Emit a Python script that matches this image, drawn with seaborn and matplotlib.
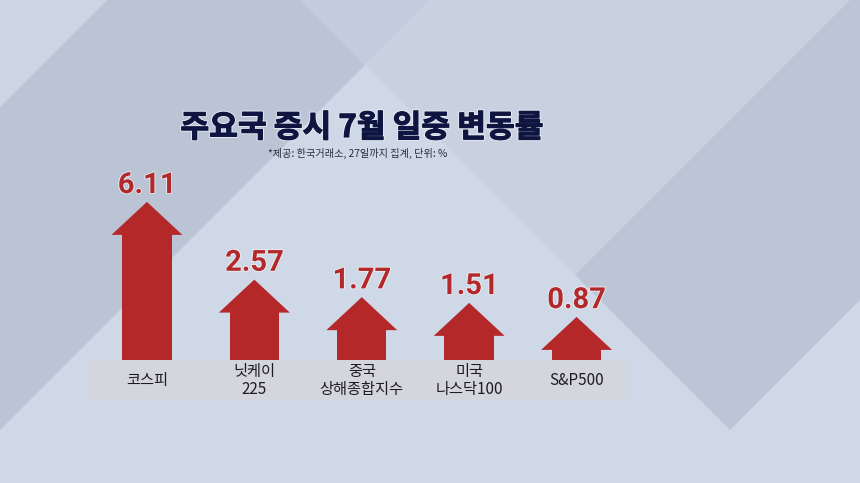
import numpy as np
import matplotlib
matplotlib.use("Agg")
import matplotlib.pyplot as plt
import matplotlib.patheffects as pe
from matplotlib.patches import Polygon, Rectangle
import seaborn as sns

# data
categories = ["코스피", "닛케이\n225", "중국\n상해종합지수", "미국\n나스닥100", "S&P500"]
values = [6.11, 2.57, 1.77, 1.51, 0.87]

title = "주요국 증시 7월 일중 변동률"
subtitle = "*제공: 한국거래소, 27일까지 집계, 단위: %"

RED = "#b5282a"
NAVY = "#0e1540"

sns.set_theme(style="white")
plt.rcParams["font.family"] = ["Noto Sans CJK KR", "DejaVu Sans"]

W, H = 860, 483
fig = plt.figure(figsize=(W / 100, H / 100), dpi=100)
fig.patch.set_facecolor("#cfd8e6")

# background shapes (pixel coords, y down)
bg = fig.add_axes([0, 0, 1, 1])
bg.set_xlim(0, W)
bg.set_ylim(H, 0)
bg.axis("off")
shapes = [
    ([(0, 107), (107, 0), (300, 0), (365, 65), (0, 430)], "#bac4d4"),
    ([(300, 0), (430, 0), (365, 65)], "#c3ccdc"),
    ([(0, 0), (107, 0), (0, 107)], "#ccd5e3"),
    ([(430, 0), (850, 0), (575, 275), (365, 65)], "#c9d1e1"),
    ([(575, 275), (850, 0), (860, 0), (860, 300), (730, 430)], "#bbc5d5"),
]
for pts, c in shapes:
    bg.add_patch(Polygon(pts, closed=True, facecolor=c, edgecolor="none"))

# label strip
bg.add_patch(Rectangle((90, 360), 536, 40, facecolor="#d5d5dc", edgecolor="none"))

bg.text(362, 128, title, ha="center", va="center", fontsize=22.5,
        fontweight="black", color=NAVY,
        path_effects=[pe.Stroke(linewidth=2.2, foreground="#e6e9f0"),
                      pe.Stroke(linewidth=0.8, foreground=NAVY),
                      pe.Normal()])
bg.text(358, 153, subtitle, ha="center", va="center", fontsize=7.3,
        color="#2c2c38")

# chart axes: bottom edge sits on the strip top
x0, x1, ytop, ybot = 90, 626, 160, 360
ax = fig.add_axes([x0 / W, 1 - ybot / H, (x1 - x0) / W, (ybot - ytop) / H])
ax.set_facecolor("none")
px_per_unit = 21.95
base = -(ybot - 336) / px_per_unit
ymax = (336 - ytop) / px_per_unit
head_h = 33 / px_per_unit
shaft_w = 0.46
head_w = 0.66

vals = np.array(values)
df_x = list(range(len(categories)))
# shaft runs a little into the head so no seam shows
sns.barplot(x=df_x, y=vals - 0.75 * head_h - base, bottom=base, color=RED,
            width=shaft_w, errorbar=None, saturation=1, ax=ax,
            edgecolor="none", linewidth=0)

for i, v in enumerate(values):
    ax.fill([i - head_w / 2, i + head_w / 2, i], [v - head_h, v - head_h, v],
            color=RED, lw=0, zorder=3)
    ax.annotate(f"{v:.2f}", (i, v), xytext=(0, 2), textcoords="offset points",
                ha="center", va="bottom", fontsize=21, fontweight="bold",
                family=["Roboto", "DejaVu Sans"], color="#b2282b",
                path_effects=[pe.withStroke(linewidth=1.2, foreground="#eef0f4")])

ax.set_xlim(-0.53, 4.46)
ax.set_ylim(base, ymax)
ax.set_xticks(df_x)
ax.set_xticklabels(categories, fontsize=11, color="#1c1c22", linespacing=1.1)
for t in ax.get_xticklabels():
    t.set_va("center")
ax.tick_params(axis="x", length=0, pad=15)
ax.set_yticks([])
ax.set_xlabel("")
ax.set_ylabel("")
sns.despine(ax=ax, left=True, bottom=True)

fig.savefig("out.png", dpi=100)
